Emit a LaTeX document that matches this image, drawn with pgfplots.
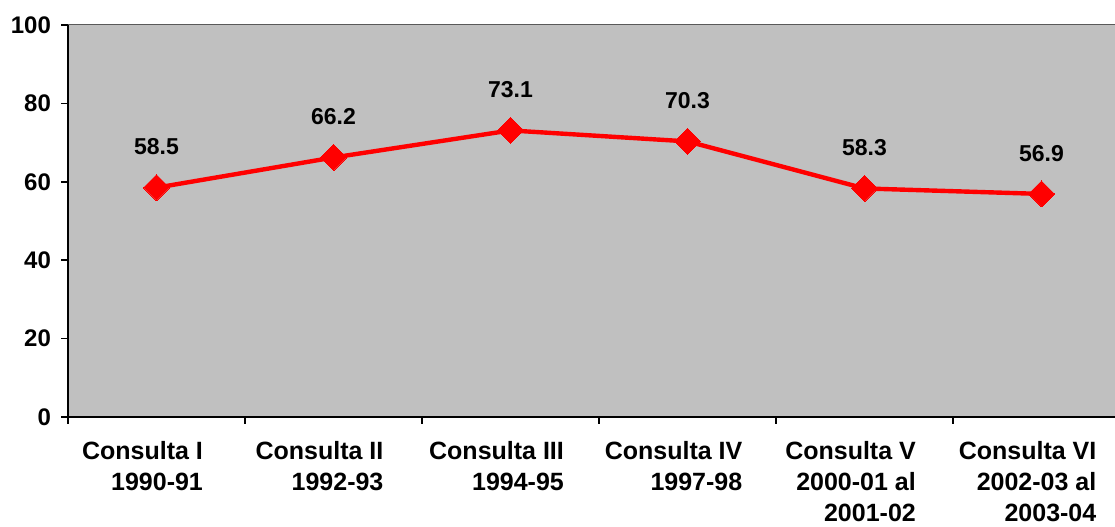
\documentclass[border=0pt]{standalone}
\usepackage{pgfplots}
\pgfplotsset{compat=1.18}
\usepackage{fontspec}
\setmainfont{Liberation Sans}
\usetikzlibrary{calc}
\definecolor{plotgray}{HTML}{C0C0C0}
\definecolor{plotred}{HTML}{FF0000}
\begin{document}
\begin{tikzpicture}
\begin{axis}[name=ax, scale only axis, width=523.5pt, height=196pt,
  xmin=-0.5, xmax=5.415, ymin=0, ymax=100,
  axis background/.style={fill=plotgray},
  axis x line*=bottom, axis y line*=left,
  axis line style={black, line width=1.1pt},
  tick align=outside, tick style={black, line width=0.8pt},
  ytick={0,20,40,60,80,100}, yticklabels={0,20,40,60,80,100},
  major tick length=3.5pt,
  xtick={0,...,5},
  x tick style={draw=none},
  minor xtick={-0.5,0.5,1.5,2.5,3.5,4.5},
  minor x tick style={draw=black, line width=0.8pt},
  minor tick length=3.5pt,
  xticklabels={{Consulta I\\1990-91},{Consulta II\\1992-93},{Consulta III\\1994-95},{Consulta IV\\1997-98},{Consulta V\\2000-01 al\\2001-02},{Consulta VI\\2002-03 al\\2003-04}},
  x tick label style={align=right, font=\bfseries\fontsize{12.5}{15.5}\selectfont, yshift=-5pt, xshift=-7pt},
  y tick label style={font=\bfseries\fontsize{12}{13}\selectfont, xshift=-1.5pt},
  clip=false,
  nodes near coords,
  nodes near coords style={font=\bfseries\fontsize{11.5}{12}\selectfont, yshift=13pt, /pgf/number format/fixed, /pgf/number format/precision=1, /pgf/number format/fixed zerofill, /pgf/number format/assume math mode=true, text=black},
]
\addplot[plotred, line width=2.2pt, mark=square*, mark size=4.6pt, mark options={rotate=45, solid, fill=plotred, draw=plotred, line width=0pt}] coordinates {
(0,58.5) (1,66.2) (2,73.1) (3,70.3) (4,58.3) (5,56.9)};
\draw[gray!70!black, line width=0.5pt] (rel axis cs:0,1) -- (rel axis cs:1,1);
\end{axis}
\pgfresetboundingbox
\path[use as bounding box] ($(ax.south west)+(-34pt,-55pt)$) rectangle ($(ax.north east)+(0,12.5pt)$);
\end{tikzpicture}
\end{document}
